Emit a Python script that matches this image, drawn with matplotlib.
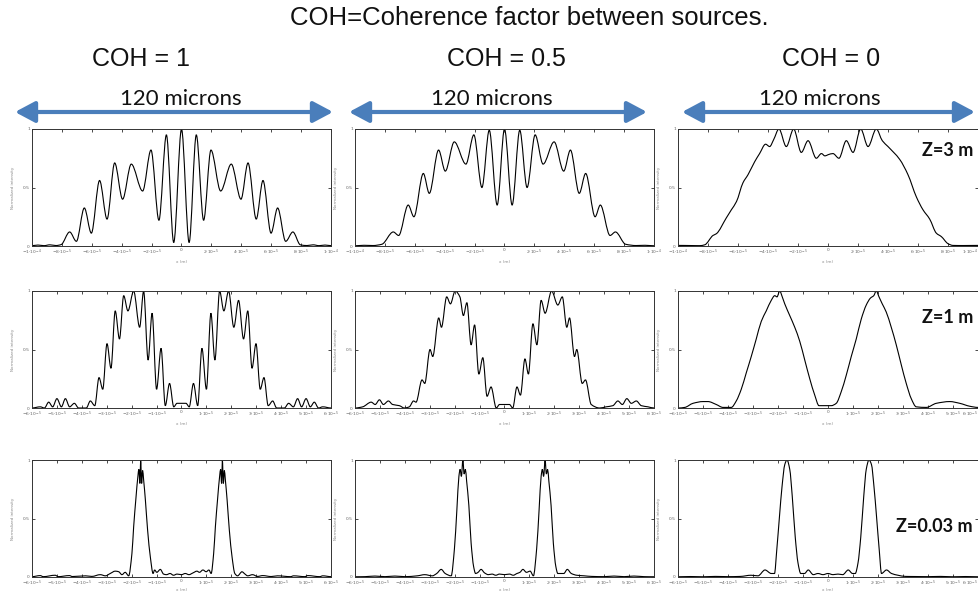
import numpy as np
import matplotlib
matplotlib.use("Agg")
import matplotlib.pyplot as plt
from matplotlib.path import Path
from matplotlib.patches import PathPatch, FancyArrowPatch, ArrowStyle

# ---------------- data (x in microns, y = normalized intensity) ----------------
coh_titles = ["COH = 1", "COH = 0.5", "COH = 0"]
z_labels = ["Z=3 m", "Z=1 m", "Z=0.03 m"]
span_label = "120 microns"
main_title = "COH=Coherence factor between sources."

xticks_row1 = [-100, -80, -60, -40, -20, 0, 20, 40, 60, 80, 100]
xticklabels_row1 = [r"$-1{\cdot}10^{-4}$", r"$-8{\cdot}10^{-5}$", r"$-6{\cdot}10^{-5}$",
                    r"$-4{\cdot}10^{-5}$", r"$-2{\cdot}10^{-5}$", "0",
                    r"$2{\cdot}10^{-5}$", r"$4{\cdot}10^{-5}$", r"$6{\cdot}10^{-5}$",
                    r"$8{\cdot}10^{-5}$", r"$1{\cdot}10^{-4}$"]
xticks_row23 = [-60, -50, -40, -30, -20, -10, 0, 10, 20, 30, 40, 50, 60]
xticklabels_row23 = [r"$-6{\cdot}10^{-5}$", r"$-5{\cdot}10^{-5}$", r"$-4{\cdot}10^{-5}$",
                     r"$-3{\cdot}10^{-5}$", r"$-2{\cdot}10^{-5}$", r"$-1{\cdot}10^{-5}$", "0",
                     r"$1{\cdot}10^{-5}$", r"$2{\cdot}10^{-5}$", r"$3{\cdot}10^{-5}$",
                     r"$4{\cdot}10^{-5}$", r"$5{\cdot}10^{-5}$", r"$6{\cdot}10^{-5}$"]
yticks = [0, 0.5, 1]
yticklabels = ["0", "0.5", "1"]

# Row 1: Z = 3 m
coh1_z3_x = [-100, -96, -92, -88, -84, -80.5, -74.8, -70.3, -65, -60.3, -54.8, -49.8, -44.7, -39.4,
             -33.6, -26, -20.4, -15.1, -10.1, -5.2, 0, 5.1, 9.9, 14.8, 19.7, 26.2, 33.3, 39.8, 44.5,
             50, 54.5, 59.9, 64.3, 69.7, 74.5, 79.5, 84, 88, 92, 96, 100]
coh1_z3_y = [0.003, 0.008, 0.003, 0.01, 0.004, 0.012, 0.12, 0.04, 0.325, 0.11, 0.56, 0.23, 0.71, 0.40,
             0.70, 0.47, 0.82, 0.22, 0.95, 0.03, 1.0, 0.03, 0.95, 0.22, 0.82, 0.47, 0.70, 0.40, 0.71,
             0.23, 0.56, 0.11, 0.325, 0.04, 0.12, 0.01, 0.004, 0.01, 0.003, 0.008, 0.003]

coh05_z3_x = [-100, -94, -88, -82, -74.4, -70.8, -64.4, -60.6, -54.3, -50.3, -44.1, -39.6, -33.6, -25.8,
              -20.5, -15.1, -10.2, -4.9, 0, 5.1, 10.2, 15.1, 20.5, 25.8, 33.2, 39.6, 44.1, 50, 54.3,
              60.6, 64.1, 70.6, 74.2, 81, 88, 94, 100]
coh05_z3_y = [0.002, 0.006, 0.004, 0.015, 0.12, 0.09, 0.35, 0.25, 0.62, 0.45, 0.82, 0.64, 0.89, 0.70,
              0.95, 0.50, 0.99, 0.35, 1.0, 0.35, 0.99, 0.50, 0.95, 0.70, 0.89, 0.64, 0.82, 0.45, 0.62,
              0.25, 0.35, 0.09, 0.12, 0.015, 0.004, 0.006, 0.002]

coh0_z3_x = [-100, -92, -85.6, -82.2, -76.7, -74.4, -67.8, -64.4, -61, -56.7, -53.3, -48.9, -45.6,
             -41.6, -38.9, -36.2, -32.7, -27.8, -22.9, -17.8, -13.3, -7.8, -4.4, -2, 0, 3.3, 7.3,
             12.2, 16.7, 21.8, 26.7, 32.2, 36.2, 40, 47.8, 53.3, 58.9, 63.3, 67.8, 72.2, 75.6, 80,
             83.3, 90, 100]
coh0_z3_y = [0.005, 0.004, 0.003, 0.01, 0.09, 0.105, 0.24, 0.31, 0.38, 0.54, 0.61, 0.72, 0.79,
             0.87, 0.85, 0.91, 1.0, 0.85, 1.0, 0.80, 0.90, 0.75, 0.79, 0.77, 0.78, 0.79, 0.75,
             0.90, 0.80, 1.0, 0.85, 1.0, 0.90, 0.85, 0.74, 0.61, 0.42, 0.31, 0.23, 0.11, 0.08, 0.02,
             0.005, 0.004, 0.005]

# Row 2: Z = 1 m
coh1_z1_x = [-60, -56.7, -55, -53.3, -51.7, -50, -48.2, -46.6, -44.9, -43, -41.3, -38.2, -36.6, -34.8,
             -33.1, -31.6, -29.9, -28.3, -26.6, -24.9, -23.2, -21.5, -19.2, -16.8, -15.2, -13.4,
             -11.8, -10.0, -8.2, -6.5, -4.8, -3.1, -1.8, 0, 1.8, 3.1, 4.8, 6.5, 8.2, 10.0, 11.8,
             13.4, 15.3, 17.0, 18.9, 21.0, 22.9, 24.9, 26.6, 28.3, 29.9, 31.6, 33.1, 34.8, 36.6,
             38.2, 41.3, 43, 44.9, 46.6, 48.2, 50, 51.7, 53.3, 55, 56.7, 60]
coh1_z1_y = [0.0, 0.01, 0.0, 0.05, 0.01, 0.08, 0.01, 0.08, 0.01, 0.04, 0.0, 0.0, 0.06, 0.02,
             0.26, 0.16, 0.55, 0.34, 0.83, 0.59, 0.96, 0.83, 1.0, 0.69, 1.0, 0.41,
             0.81, 0.16, 0.51, 0.02, 0.21, 0.01, 0.04, 0.04, 0.04, 0.01, 0.21, 0.02, 0.51, 0.16, 0.81,
             0.41, 1.0, 0.83, 1.0, 0.69, 0.92, 0.59, 0.83, 0.34, 0.55, 0.16, 0.26, 0.02, 0.06,
             0.0, 0.0, 0.04, 0.01, 0.08, 0.01, 0.08, 0.01, 0.05, 0.0, 0.01, 0.0]

coh05_z1_x = [-60, -56.9, -53.5, -51.9, -50.2, -48.6, -46.6, -44.9, -42.2, -40.2, -38.2, -36.5, -35.5,
              -33.1, -32, -29.9, -28.8, -26.4, -25.3, -23.2, -21.7, -19.8, -17.9, -16.5, -15.1, -13.4,
              -12, -10.3, -8.7, -7, -5.4, -3.3, -2, 0, 2, 3.3, 5, 6.4, 8.2, 9.6, 11.4, 13, 14.7, 16.3,
              18.9, 21.4, 23.2, 25, 26.1, 28.1, 29, 31.2, 32.5, 34.8, 38.2, 40.8, 43.5, 45.5, 47.3,
              49.1, 50.9, 52.9, 54.9, 57.6, 60]
coh05_z1_y = [0.0, 0.01, 0.05, 0.03, 0.07, 0.03, 0.06, 0.03, 0.02, 0.0, 0.01, 0.06, 0.05,
              0.24, 0.21, 0.50, 0.44, 0.77, 0.69, 0.95, 0.89, 1.0, 0.95, 0.79, 0.90, 0.54,
              0.71, 0.29, 0.43, 0.10, 0.18, 0.0, 0.03, 0.03, 0.03, 0.0, 0.18, 0.11, 0.42, 0.29, 0.72,
              0.54, 0.92, 0.81, 1.0, 0.88, 0.95, 0.69, 0.77, 0.44, 0.50, 0.21, 0.24, 0.03, 0.0, 0.01,
              0.02, 0.06, 0.03, 0.08, 0.04, 0.06, 0.02, 0.01, 0.0]

coh0_z1_x = [-60, -57.3, -54, -50, -48, -44.7, -42, -38.7, -36.7, -34.7, -32.7, -30.7, -28.7, -26.7,
             -24.7, -22.7, -21.3, -20.4, -19.3, -18.3, -17.3, -15.3, -13.3, -11.3, -9.3, -7.3, -5.3,
             -3.6, -1.3, 1.3, 3.3, 5.3, 7.3, 9.3, 11.3, 13.3, 15.3, 17, 18.3, 19.3, 20.4, 21.7, 23.3,
             25.3, 27.3, 29.3, 31.3, 33.3, 35.3, 39.3, 43.3, 48.7, 52.7, 56.7, 60]
coh0_z1_y = [0.0, 0.005, 0.04, 0.055, 0.055, 0.03, 0.005, 0.005, 0.06, 0.16, 0.30, 0.44, 0.59, 0.74,
             0.83, 0.92, 0.96, 0.95, 1.0, 0.95, 0.89, 0.79, 0.69, 0.57, 0.41, 0.25, 0.11,
             0.02, 0.02, 0.02, 0.04, 0.14, 0.28, 0.44, 0.59, 0.76, 0.88, 0.94, 0.96, 1.0, 0.95, 0.89,
             0.82, 0.69, 0.54, 0.37, 0.21, 0.08, 0.01, 0.005, 0.04, 0.055, 0.04, 0.015, 0.005]

# Row 3: Z = 0.03 m
coh1_z003_x = [-60, -56.7, -55.5, -50.7, -49.5, -45, -43.8, -38.5, -36, -32.6,
               -30.5, -28.6, -26.6, -25.2, -23.9, -22.6, -21.2, -19.9, -19.2, -18.3,
               -17.5, -17.1, -16.7, -16.4, -16.0, -15.6, -15.2, -14.5, -13.6, -12.5,
               -11.4, -10.8, -9.9, -8.5, -7.2, -6.0, -4.6, -3.2, -1.8, 0,
               1.5, 3.0, 4.6, 6.2, 7.2, 8.6, 9.9, 11.0, 11.9, 12.9,
               13.6, 14.5, 15.3, 15.7, 16.1, 16.4, 16.8, 17.2, 17.6, 18.3,
               19.2, 20.3, 21.4, 22.5, 24.3, 25.2, 26.6, 28.5, 30.5, 32.6,
               36, 38.5, 43.8, 45, 49.5, 50.7, 55.5, 56.7, 60]
coh1_z003_y = [0.003, 0.012, 0.003, 0.015, 0.003, 0.012, 0.004, 0.01, 0.005, 0.02,
               0.01, 0.03, 0.05, 0.045, 0.02, 0.04, 0.01, 0.2, 0.43, 0.67,
               0.86, 0.92, 0.80, 1.0, 0.80, 0.91, 0.83, 0.66, 0.40, 0.17,
               0.03, 0.06, 0.04, 0.065, 0.025, 0.02, 0.03, 0.015, 0.025, 0.02,
               0.03, 0.02, 0.035, 0.05, 0.04, 0.06, 0.045, 0.06, 0.03, 0.2,
               0.43, 0.67, 0.86, 0.92, 0.80, 1.0, 0.80, 0.91, 0.83, 0.66,
               0.40, 0.17, 0.03, 0.01, 0.045, 0.03, 0.01, 0.02, 0.005, 0.012,
               0.004, 0.01, 0.003, 0.01, 0.003, 0.012, 0.003, 0.01, 0.003]

coh05_z003_x = [-60, -56, -52, -48, -44, -40, -35, -32, -29, -27.2,
                -25.4, -23.8, -21.4, -20.1, -19.1, -18.3, -17.8, -17.3, -16.7, -16.2,
                -15.7, -15.2, -14.3, -13.4, -12.4, -11.6, -10.6, -9.4, -8.0, -6.5,
                -5, -3.5, -2, 0, 2, 3.5, 5, 6.2, 7.4, 8.8,
                10.3, 11.6, 12.9, 13.9, 14.7, 15.2, 15.7, 16.3, 16.8, 17.3,
                17.8, 18.7, 19.6, 20.6, 21.4, 23.8, 25.2, 26.8, 29, 32,
                35, 40, 44, 48, 52, 56, 60]
coh05_z003_y = [0.002, 0.003, 0.008, 0.003, 0.008, 0.003, 0.01, 0.02, 0.01, 0.03,
                0.065, 0.03, 0.01, 0.24, 0.58, 0.86, 0.92, 0.86, 1.0, 0.88,
                0.92, 0.82, 0.61, 0.29, 0.09, 0.03, 0.04, 0.065, 0.035, 0.02,
                0.025, 0.015, 0.025, 0.02, 0.025, 0.015, 0.03, 0.04, 0.065, 0.04,
                0.05, 0.01, 0.24, 0.58, 0.86, 0.92, 0.86, 1.0, 0.88, 0.92,
                0.82, 0.61, 0.29, 0.09, 0.03, 0.03, 0.065, 0.03, 0.015, 0.01,
                0.005, 0.003, 0.008, 0.003, 0.008, 0.003, 0.002]

coh0_z003_x = [-60, -55, -50, -45, -40, -35, -30.8, -28, -25.2, -22.7,
               -21.4, -20.5, -19.4, -18.4, -17.3, -16.4, -15.3, -14.3, -13.1, -12,
               -10.9, -9.4, -7.9, -5.9, -4, -2, 0, 2, 4, 5.9,
               8.1, 9.8, 10.9, 12.0, 13.1, 14.3, 15.3, 16.4, 17.4, 18.4,
               19.4, 20.5, 21.4, 23.4, 25.4, 28, 31, 35, 40, 45,
               50, 55, 60]
coh0_z003_y = [0.002, 0.004, 0.002, 0.005, 0.003, 0.005, 0.015, 0.01, 0.06, 0.03,
               0.03, 0.23, 0.52, 0.77, 0.96, 1.0, 0.92, 0.69, 0.34, 0.12,
               0.03, 0.03, 0.06, 0.02, 0.03, 0.02, 0.03, 0.02, 0.025, 0.02,
               0.06, 0.03, 0.03, 0.12, 0.34, 0.69, 0.92, 1.0, 0.96, 0.77,
               0.52, 0.23, 0.03, 0.06, 0.03, 0.015, 0.005, 0.004, 0.003, 0.005,
               0.002, 0.004, 0.002]

curves = [
    [(coh1_z3_x, coh1_z3_y), (coh05_z3_x, coh05_z3_y), (coh0_z3_x, coh0_z3_y)],
    [(coh1_z1_x, coh1_z1_y), (coh05_z1_x, coh05_z1_y), (coh0_z1_x, coh0_z1_y)],
    [(coh1_z003_x, coh1_z003_y), (coh05_z003_x, coh05_z003_y), (coh0_z003_x, coh0_z003_y)],
]

# ---------------- drawing ----------------
W, H = 979, 591
fig = plt.figure(figsize=(W / 100, H / 100), dpi=100)
fig.patch.set_facecolor("white")

rows_px = [(129, 246), (291, 408), (460, 577)]
cols_px = [(32, 331), (355, 654), (678, 978)]
arrows_px = [(15, 333), (349, 647), (682, 975)]
arrow_y = 112
blue = "#4a7ebb"

HEAD_FONT = ["Liberation Sans", "DejaVu Sans"]


def smooth_path(x, y):
    """Render the points as a smooth (shape preserving) Bezier line."""
    x = np.asarray(x, float)
    y = np.asarray(y, float)
    n = len(x)
    m = np.zeros(n)
    for i in range(1, n - 1):
        d0 = (y[i] - y[i - 1]) / (x[i] - x[i - 1])
        d1 = (y[i + 1] - y[i]) / (x[i + 1] - x[i])
        if d0 * d1 > 0:
            m[i] = 2.0 / (1.0 / d0 + 1.0 / d1)
    verts = [(x[0], y[0])]
    codes = [Path.MOVETO]
    for i in range(n - 1):
        h = x[i + 1] - x[i]
        verts += [(x[i] + h / 3, y[i] + m[i] * h / 3),
                  (x[i + 1] - h / 3, y[i + 1] - m[i + 1] * h / 3),
                  (x[i + 1], y[i + 1])]
        codes += [Path.CURVE4] * 3
    return Path(verts, codes)


def fx(px):
    return px / W


def fy(py):
    return 1 - py / H


for r, (top, bot) in enumerate(rows_px):
    for c, (left, right) in enumerate(cols_px):
        ax = fig.add_axes([fx(left), fy(bot), (right - left) / W, (bot - top) / H])
        xs, ys = curves[r][c]
        ax.add_patch(PathPatch(smooth_path(xs, ys), facecolor="none", edgecolor="black",
                               lw=0.8, transform=ax.transData))
        if r == 0:
            ax.set_xlim(-100, 100)
            ax.set_xticks(xticks_row1)
            ax.set_xticklabels(xticklabels_row1)
        else:
            ax.set_xlim(-60, 60)
            ax.set_xticks(xticks_row23)
            ax.set_xticklabels(xticklabels_row23)
        if c == 2:
            ax.get_xticklabels()[-1].set_horizontalalignment("right")
        ax.set_ylim(0, 1)
        ax.set_yticks(yticks)
        ax.set_yticklabels(yticklabels)
        ax.tick_params(direction="in", length=2.5, width=0.5, top=True, right=True,
                       labelsize=3.2, labelcolor="#666666", pad=1.5)
        for sp in ax.spines.values():
            sp.set_linewidth(0.7)
            sp.set_color("#333333")
        ax.set_ylabel("Normalized intensity", fontsize=3, color="#888888", labelpad=6)
        ax.set_xlabel("x (m)", fontsize=3, color="#888888", labelpad=(-0.5 if r == 2 else 2))

# titles
fig.text(fx(529), fy(18), main_title, ha="center", va="center", fontsize=18.5,
         family=HEAD_FONT, color="#111111")
for c, xc in enumerate([141, 506, 805 + 0 * 26 + 26]):
    fig.text(fx(xc), fy(59), coh_titles[c], ha="center", va="center", fontsize=18,
             family=HEAD_FONT, color="#111111")

# arrows with span labels
label_centers = [181, 492, 820]
for k, (a, b) in enumerate(arrows_px):
    arr = FancyArrowPatch((fx(a), fy(arrow_y)), (fx(b), fy(arrow_y)),
                          transform=fig.transFigure,
                          arrowstyle=ArrowStyle("<|-|>", head_length=0.75, head_width=0.4),
                          mutation_scale=16, lw=3, color=blue, shrinkA=0, shrinkB=0)
    fig.add_artist(arr)
    fig.text(fx(label_centers[k]), fy(99), span_label, ha="center", va="center",
             fontsize=16, family=["Lato", "DejaVu Sans"], color="#111111")

# Z labels
for r, yc in enumerate([150, 318, 526]):
    fig.text(fx(973), fy(yc), z_labels[r], ha="right", va="center", fontsize=13,
             fontweight="bold", family=["Lato", "DejaVu Sans"], color="#111111")

fig.savefig("out.png", dpi=100)
